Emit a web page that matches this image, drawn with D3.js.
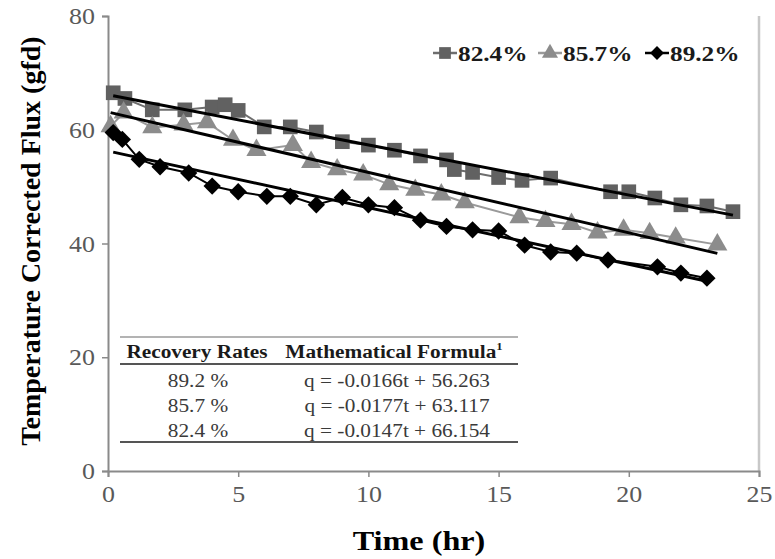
<!DOCTYPE html>
<html>
<head>
<meta charset="utf-8">
<script src="https://cdn.jsdelivr.net/npm/d3@7"></script>
<style>
  html, body { margin: 0; padding: 0; background: #fff; }
  svg { display: block; font-family: "Liberation Serif", "Times New Roman", serif; }
</style>
</head>
<body>
<svg id="chart" width="775" height="559"></svg>
<script>
// Flux measurements (gfd) over time (hr) for each recovery rate
const hours824 = [0.2, 0.65, 1.7, 2.95, 4.0, 4.5, 5.0, 6.0, 7.0, 8.0, 9.0, 10.0, 11.0, 12.0, 13.0, 13.3, 14.0, 15.0, 15.9, 17.0, 19.3, 20.0, 21.0, 22.0, 23.0, 24.0];
const flux824  = [66.5, 65.5, 63.5, 63.5, 64.0, 64.4, 63.4, 60.5, 60.5, 59.6, 57.9, 57.3, 56.4, 55.4, 54.7, 53.0, 52.5, 51.6, 51.1, 51.5, 49.1, 49.1, 48.0, 46.8, 46.6, 45.6];

const hours857 = [0.1, 0.6, 1.7, 2.9, 3.8, 4.8, 5.7, 7.1, 7.8, 8.8, 9.8, 10.8, 11.8, 12.8, 13.7, 15.8, 16.8, 17.8, 18.8, 19.8, 20.8, 21.8, 23.4];
const flux857  = [60.6, 63.0, 60.4, 60.9, 61.3, 58.2, 56.4, 57.3, 54.3, 53.0, 52.1, 50.4, 49.4, 48.6, 47.2, 44.6, 43.9, 43.4, 41.9, 42.4, 41.8, 41.0, 39.8];

const hours892 = [0.2, 0.55, 1.2, 2.0, 3.1, 4.0, 5.0, 6.1, 7.0, 8.0, 9.0, 10.0, 11.0, 12.0, 13.0, 14.0, 15.0, 16.0, 17.0, 18.0, 19.2, 21.1, 22.0, 23.0];
const flux892  = [59.5, 58.3, 54.8, 53.5, 52.4, 50.1, 49.1, 48.3, 48.3, 46.8, 48.1, 46.8, 46.3, 44.1, 43.0, 42.4, 42.2, 39.7, 38.5, 38.3, 37.1, 35.9, 34.8, 33.9];

// Linear fits, q in gfd, t in minutes
const rateLabels  = ["89.2 %", "85.7 %", "82.4 %"];
const fitSlopes   = [-0.0166, -0.0177, -0.0147];
const fitIntercepts = [56.263, 63.117, 66.154];

const legendLabels = ["82.4%", "85.7%", "89.2%"];
const xTicks = [0, 5, 10, 15, 20, 25];
const yTicks = [0, 20, 40, 60, 80];

const svg = d3.select("#chart");
const x = d3.scaleLinear().domain([0, 25]).range([108, 759]);
const y = d3.scaleLinear().domain([0, 80]).range([471, 16]);

// widen glyphs slightly, like the original typesetting
function widen(sel, k) {
  sel.each(function () {
    const w = this.getComputedTextLength();
    if (w > 0) {
      this.setAttribute("textLength", (w * k).toFixed(2));
      this.setAttribute("lengthAdjust", "spacingAndGlyphs");
    }
  });
}
const SX = 1.15;

// right frame edge
svg.append("line")
  .attr("x1", x(25)).attr("x2", x(25))
  .attr("y1", y(80)).attr("y2", y(0))
  .attr("stroke", "#c8c8c8").attr("stroke-width", 2.5);

// axes
const yAxis = svg.append("g").attr("transform", `translate(${x(0)},0)`)
  .call(d3.axisLeft(y).tickValues(yTicks).tickSize(6).tickPadding(7).tickFormat(d3.format("d")));
const xAxis = svg.append("g").attr("transform", `translate(0,${y(0)})`)
  .call(d3.axisBottom(x).tickValues(xTicks).tickSize(6).tickPadding(8).tickFormat(d3.format("d")));
[yAxis, xAxis].forEach(g => {
  g.select(".domain").attr("stroke", "#8a8a8a").attr("stroke-width", 2);
  g.selectAll(".tick line").attr("stroke", "#8a8a8a").attr("stroke-width", 1.5);
  g.selectAll(".tick text")
    .attr("font-family", "Liberation Serif").attr("font-size", 24).attr("fill", "#595959");
});
widen(yAxis.selectAll(".tick text"), 1.08);
widen(xAxis.selectAll(".tick text"), 1.08);

// axis titles
const xt = svg.append("text").attr("x", 419).attr("y", 550).attr("text-anchor", "middle")
  .attr("font-size", 28).attr("font-weight", "bold").attr("fill", "#000").text("Time (hr)");
widen(xt, SX);
svg.append("text").attr("transform", "translate(40,241) rotate(-90)").attr("text-anchor", "middle")
  .attr("font-size", 28).attr("font-weight", "bold").attr("fill", "#000")
  .text("Temperature Corrected Flux (gfd)");

// marker shapes
const sq = d3.symbol().type(d3.symbolSquare).size(215)();
const tri = d3.symbol().type(d3.symbolTriangle).size(175)();
const dia = d3.symbol().type(d3.symbolSquare).size(150)();

const series = [
  { hours: hours824, flux: flux824, line: "#6e6e6e", fill: "#616161", path: sq, rot: 0, fit: 2 },
  { hours: hours857, flux: flux857, line: "#9a9a9a", fill: "#8c8c8c", path: tri, rot: 0, fit: 1 },
  { hours: hours892, flux: flux892, line: "#000", fill: "#000", path: dia, rot: 45, fit: 0 }
];

const lineGen = d3.line().x(d => x(d[0])).y(d => y(d[1]));

series.forEach(s => {
  const pts = s.hours.map((h, i) => [h, s.flux[i]]);
  svg.append("path").datum(pts).attr("d", lineGen)
    .attr("fill", "none").attr("stroke", s.line).attr("stroke-width", 2);
  svg.append("g").selectAll("path").data(pts).join("path")
    .attr("d", s.path)
    .attr("transform", d => `translate(${x(d[0])},${y(d[1])}) rotate(${s.rot})`)
    .attr("fill", s.fill);
});

// fitted trend lines over each data range
series.forEach(s => {
  const t0 = d3.min(s.hours), t1 = d3.max(s.hours);
  const q = t => fitIntercepts[s.fit] + fitSlopes[s.fit] * t * 60;
  svg.append("line")
    .attr("x1", x(t0)).attr("y1", y(q(t0)))
    .attr("x2", x(t1)).attr("y2", y(q(t1)))
    .attr("stroke", "#000").attr("stroke-width", 3);
});

// legend
const legendX = [433, 538, 645];
series.forEach((s, i) => {
  const g = svg.append("g").attr("transform", `translate(${legendX[i]},53)`);
  g.append("line").attr("x1", 0).attr("x2", 24).attr("stroke", s.line).attr("stroke-width", 2.5);
  g.append("path").attr("d", s.path).attr("transform", `translate(12,0) rotate(${s.rot}) scale(0.8)`).attr("fill", s.fill);
  const t = g.append("text").attr("x", 25).attr("y", 8).attr("font-size", 22).attr("font-weight", "bold")
    .attr("fill", "#1a1a1a").text(legendLabels[i]);
  widen(t, SX);
});

// fit equation table
const tbl = svg.append("g");
tbl.append("line").attr("x1", 120).attr("x2", 518).attr("y1", 337).attr("y2", 337)
  .attr("stroke", "#9a9a9a").attr("stroke-width", 1.5);
tbl.append("line").attr("x1", 120).attr("x2", 518).attr("y1", 364).attr("y2", 364)
  .attr("stroke", "#555").attr("stroke-width", 2);
tbl.append("line").attr("x1", 120).attr("x2", 518).attr("y1", 442).attr("y2", 442)
  .attr("stroke", "#555").attr("stroke-width", 2);

const h1 = tbl.append("text").attr("x", 197).attr("y", 358).attr("text-anchor", "middle")
  .attr("font-size", 18.5).attr("font-weight", "bold").attr("fill", "#1a1a1a").text("Recovery Rates");
widen(h1, SX);
const h2 = tbl.append("text").attr("x", 394).attr("y", 358).attr("text-anchor", "middle")
  .attr("font-size", 18.5).attr("font-weight", "bold").attr("fill", "#1a1a1a");
h2.append("tspan").text("Mathematical Formula");
h2.append("tspan").attr("font-size", 11).attr("dy", -8).text("1");
widen(h2, SX);

rateLabels.forEach((r, i) => {
  const yy = 387 + i * 25;
  const a = tbl.append("text").attr("x", 198).attr("y", yy).attr("text-anchor", "middle")
    .attr("font-size", 18.5).attr("fill", "#3a3a3a").text(r);
  widen(a, SX);
  const b = tbl.append("text").attr("x", 397).attr("y", yy).attr("text-anchor", "middle")
    .attr("font-size", 18.5).attr("fill", "#3a3a3a")
    .text(`q = ${fitSlopes[i].toFixed(4)}t + ${fitIntercepts[i].toFixed(3)}`);
  widen(b, SX);
});
</script>
</body>
</html>
